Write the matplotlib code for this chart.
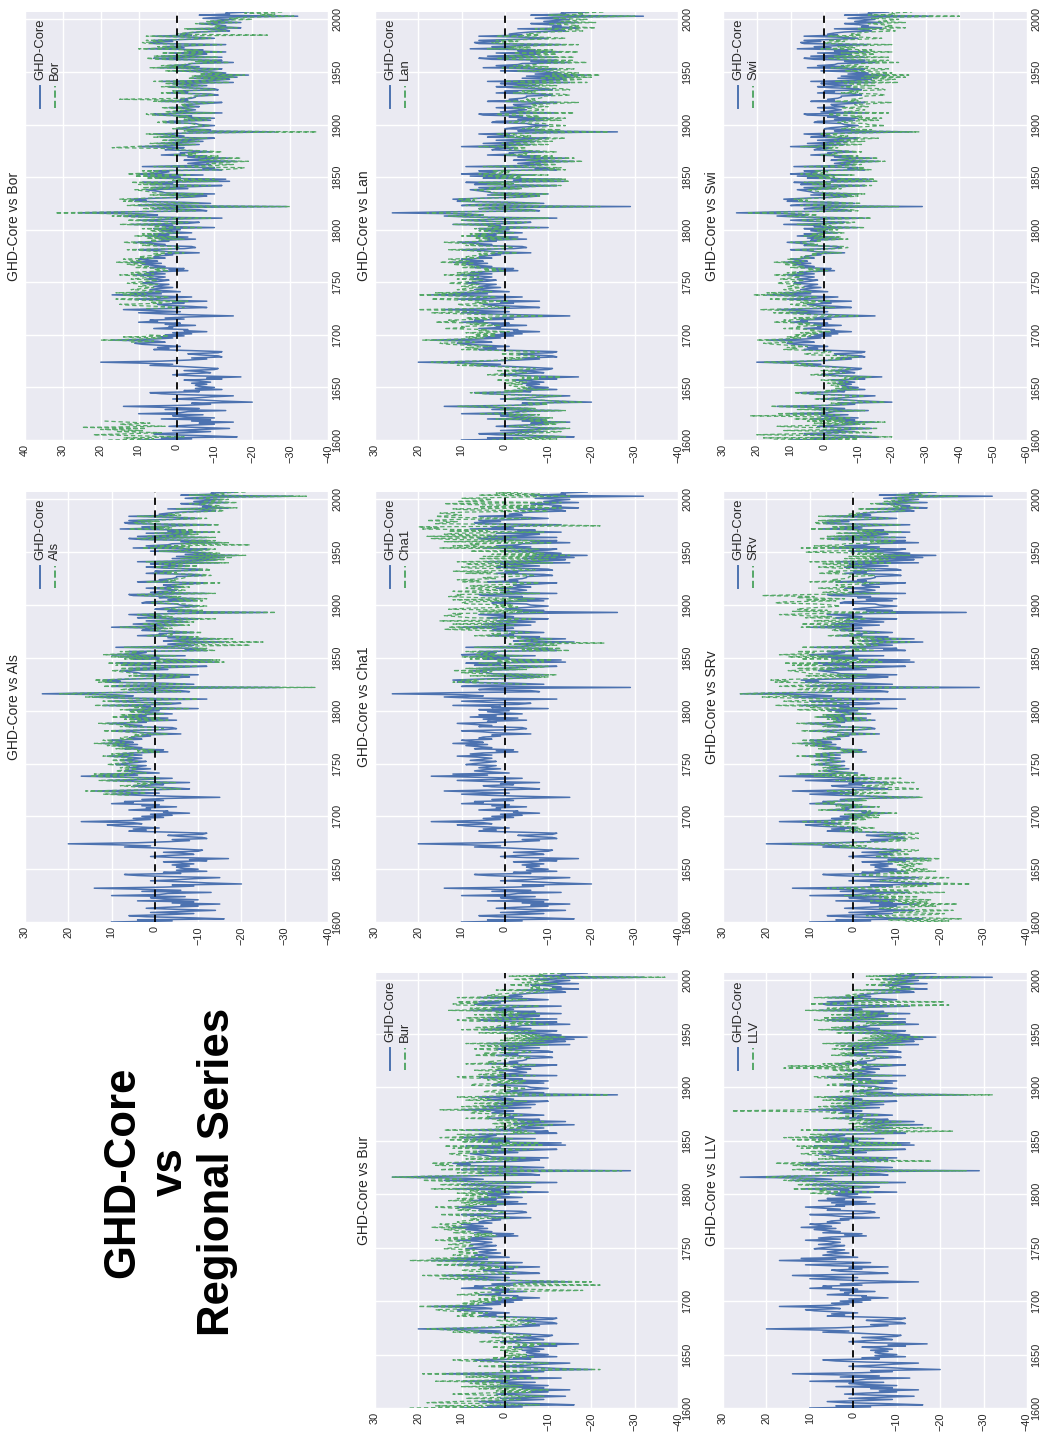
import numpy as np
import matplotlib
matplotlib.use("Agg")
import matplotlib.pyplot as plt

plt.rcParams['font.family'] = ['Liberation Sans', 'DejaVu Sans']

# ---------------- data (anomalies, days) ----------------
ghd_core = [
    10, -4, 4, -16, -8, 2, 6, -3, -9, 1,          # 1600
    -6, -14, -5, 2, -3, -10, -6, -15, -4, -9,     # 1610
    4, -10, -2, 1, -7, 10, -1, -3, -13, 3,        # 1620
    -6, 3, 14, -2, -9, -4, -20, -12, -7, 1,       # 1630
    -5, -9, -15, -3, 4, 7, -6, -2, -12, -5,       # 1640
    -10, -6, -5, -8, -4, -9, -6, -2, -12, -8,     # 1650
    -17, -5, 1, -3, -9, -7, -2, -10, -11, -6,     # 1660
    -1, 7, 1, 8, 20, 4, -3, -8, -4, -12,          # 1670
    -11, -6, -3, -11, -12, -4, 6, 2, 5, -1,       # 1680
    4, 9, 11, 3, 5, 17, 6, 1, 5, -2,              # 1690
    3, -4, 1, -8, -2, -3, 6, 1, 2, -5,            # 1700
    3, -1, 10, 5, 7, -2, 3, -3, -15, -4,          # 1710
    4, 10, -1, 6, 14, 2, -8, -4, 3, 5,            # 1720
    -2, 1, -8, 4, 11, 2, -4, 6, 17, 4,            # 1730
    12, -1, 3, 7, 5, 1, 6, 4, 2, 9,               # 1740
    7, 4, 2, 8, 5, 3, 6, 11, 3, 8,                # 1750
    5, -3, 2, -2, 7, 3, 6, 9, 4, 12,              # 1760
    5, 8, 10, 3, 6, 5, 1, 3, -6, 2,               # 1770
    5, 10, -2, -5, -4, 6, 3, 7, 11, 2,            # 1780
    4, -5, 5, -3, 8, 2, 6, -4, 1, 4,              # 1790
    -1, 6, -10, 3, 1, 12, -3, -6, 4, 10,          # 1800
    2, -12, 8, 14, 5, 9, 26, 12, -8, -6,          # 1810
    6, 3, -29, 10, 6, -9, -2, 11, 8, 12,          # 1820
    5, -4, -8, 4, -10, 3, 4, 6, 8, -3,            # 1830
    6, -5, -12, 7, 1, 9, -14, -2, -13, 5,         # 1840
    -1, 8, -7, 10, 4, 2, 6, -12, -7, -10,         # 1850
    9, -4, -9, -3, -6, -16, -2, -5, -14, -3,      # 1860
    -8, 4, -2, -1, -9, -4, 3, 2, -2, 10,          # 1870
    1, -6, 5, -1, -7, 2, -5, -10, 4, -2,          # 1880
    1, 6, -5, -26, -3, -9, 0, -2, -6, -10,        # 1890
    -6, -5, 3, 2, -9, -3, -10, -1, -4, 5,         # 1900
    6, -12, 1, -2, -5, -3, 2, -6, -3, -2,         # 1910
    -8, -12, 4, -3, -1, -4, -5, -5, -11, -9,      # 1920
    2, -3, 0, -11, -10, -2, 2, -8, -3, 1,         # 1930
    -15, 4, -10, -14, -4, -16, -5, -19, -7, -13,  # 1940
    -9, 1, -10, -12, 5, -6, 2, -3, -4, -15,       # 1950
    -6, -12, 3, 6, -12, 4, -5, -8, 2, -13,        # 1960
    -3, -7, 8, -2, 3, -4, -13, 6, 7, 1,           # 1970
    6, -3, -10, -5, 6, -4, -1, -3, -6, -14,       # 1980
    -13, -3, -17, -11, -13, -10, -6, -17, -9, -12,  # 1990
    -15, -7, -11, -32, -6, -14, -13, -19,         # 2000
]

als_1720 = [
    6, 12, 2, 9, 16, 4, -6, -2, 5, 8,
    1, 4, -5, 7, 13, 5, -1, 8, 15, 6,
    14, 2, 5, 9, 7, 4, 8, 6, 4, 11,
    9, 6, 4, 10, 7, 5, 8, 12, 5, 10,
    7, -1, 4, 0, 9, 5, 8, 11, 6, 14,
    7, 10, 12, 5, 8, 7, 3, 5, -3, 4,
    7, 12, 0, -2, -1, 8, 5, 9, 13, 4,
    6, -3, 7, -1, 10, 4, 8, -2, 3, 6,
    1, 8, -8, 5, 3, 14, -1, -4, 6, 12,
    4, -10, 10, 16, 7, 11, 22, 14, -6, -4,
    8, 5, -37, 12, 8, -7, 0, 13, 10, 14,
    7, -2, -6, 6, -8, 5, 6, 8, 10, -1,
    8, -3, -10, 9, 3, 11, -16, 0, -15, 7,
    1, 10, -5, 12, 6, 4, 8, -14, -9, -12,
    7, -6, -22, -5, -8, -25, -4, -7, -18, -5,
    -10, 2, -4, -3, -11, -6, 1, 0, -4, 8,
    -1, -8, 3, -3, -9, 0, -7, -14, 2, -4,
    -1, 4, -7, -28, -5, -11, -2, -4, -8, -12,
    -8, -7, 1, 0, -11, -5, -12, -3, -6, 3,
    4, -14, -1, -4, -7, -5, 0, -8, -5, -4,
    -10, -15, 2, -5, -3, -6, -7, -7, -13, -11,
    0, -5, -2, -13, -12, -4, 0, -10, -5, -1,
    -17, 2, -12, -16, -6, -18, -7, -21, -9, -15,
    -11, -1, -12, -14, 3, -8, 0, -22, -6, -17,
    -8, -14, 1, 4, -14, 2, -7, -10, 0, -15,
    -5, -9, 6, -4, 1, -6, -15, 4, 5, -1,
    4, -5, -12, -7, 4, -6, -3, -5, -8, -16,
    -15, -5, -19, -13, -15, -12, -8, -19, -11, -14,
    -17, -9, -13, -35, -8, -16, -15, -21,
]

bor_1600 = [18, 6, 14, -2, 10, 22, 12, 4, 16, 9,
            20, 8, 25, 3, 11, 15, 7, 13, 19]
bor_1693 = [12, 6, 20, 9, 4, 14, 2, 8]
bor_1725 = [
    8, -2, 4, 12, 15,
    4, 7, -3, 10, 16, 6, 2, 11, 14, 8,
    16, 4, 7, 12, 9, 6, 10, 8, 5, 13,
    11, 7, 5, 12, 9, 6, 10, 15, 6, 12,
    9, 2, 6, 3, 11, 7, 10, 13, 8, 16,
    9, 12, 14, 6, 10, 8, 4, 6, -2, 5,
    8, 13, 1, -1, 0, 9, 6, 10, 14, 5,
    7, -2, 8, 0, 11, 5, 9, -1, 4, 7,
    2, 9, -7, 6, 4, 15, 0, -3, 7, 13,
    5, -9, 11, 17, 8, 12, 32, 15, -5, -3,
    9, 6, -30, 13, 9, -6, 1, 14, 11, 15,
    8, -1, -5, 7, -7, 6, 7, 9, 11, 0,
    9, -2, -9, 10, 4, 12, -11, 1, -10, 8,
    2, 11, -4, 13, 7, 5, 9, -12, -16, -18,
    6, -10, -15, -8, -12, -19, -6, -9, -17, -5,
    -11, 1, -5, -3, -12, -7, 0, -1, 17, 12,
    3, -5, 7, 1, -6, 4, -3, -8, 6, 0,
    2, 8, -4, -37, -2, -8, 1, -1, -5, -9,
    -5, -4, 5, 4, -8, -2, -9, 0, -3, 7,
    8, -10, 3, 0, -4, -2, 4, -5, -2, -1,
    -7, -10, 6, -2, 15, -3, -4, -4, -10, -8,
    4, -2, 1, -10, -9, -1, 4, -7, -2, 3,
    -14, 6, -9, -13, -3, -15, -4, -18, -6, -12,
    -8, 3, -9, -11, 7, -5, 4, -2, -3, -14,
    -5, -11, 5, 8, -11, 6, -4, -7, 4, -12,
    -2, -6, 10, -1, 5, -3, -12, 8, 9, 3,
    8, -2, -9, -4, 8, -24, 0, -2, -5, -13,
    -12, -2, -16, -10, -12, -9, -5, -16, -8, -11,
    -20, -14, -18, -31, -22, -26, -18, -28,
]

bur_1600 = [
    22, 5, 16, -8, 3, 18, 12, 2, -4, 9,
    1, -9, 4, 12, 5, -6, 2, -10, 6, -3,
    10, -4, 5, 8, -1, 16, 4, 2, -8, 9,
    -1, 8, 19, 3, -4, 1, -22, -8, -2, 6,
    -1, -4, -10, 2, 9, 12, -1, 3, -7, 0,
    -5, -1, 0, -3, 1, -4, -1, 3, -7, -3,
    -12, 0, 6, 2, -4, -2, 3, -5, -6, -1,
    4, 12, 6, 13, 18, 9, 2, -3, 1, -7,
    -6, -1, 2, -6, -7, 1, 11, 7, 10, 4,
    9, 14, 16, 8, 10, 20, 11, 6, 10, 3,
    8, 1, 6, -3, 3, 2, 11, 6, 7, -2,
    -18, -6, 5, 0, 2, -22, -2, -8, -20, -9,
    9, 15, 4, 11, 19, 7, -3, 1, 8, 10,
    3, 6, -3, 9, 16, 7, 1, 11, 22, 9,
    17, 4, 8, 12, 10, 6, 11, 9, 7, 14,
    12, 9, 7, 13, 10, 8, 11, 16, 8, 13,
    10, 2, 7, 3, 12, 8, 11, 14, 9, 17,
    10, 13, 15, 8, 11, 10, 6, 8, -1, 7,
    10, 15, 3, 0, 1, 11, 8, 12, 16, 7,
    9, 0, 10, 2, 13, 7, 11, 1, 6, 9,
    4, 11, -5, 8, 6, 17, 2, -1, 9, 15,
    7, -7, 13, 19, 10, 14, 26, 17, -3, -1,
    11, 8, -27, 15, 11, -4, 3, 16, 13, 17,
    10, 1, -3, 9, -5, 8, 9, 11, 13, 2,
    11, 0, -7, 12, 6, 14, -9, 3, -8, 10,
    4, 13, -2, 15, 9, 7, 11, -7, -2, -5,
    14, 1, -4, 2, -1, -11, 3, 0, -9, 2,
    -3, 9, 3, 4, -4, 1, 8, 7, 3, 15,
    6, -1, 10, 4, -2, 7, 0, -5, 9, 3,
    6, 11, 0, -24, 2, -4, 5, 3, -1, -5,
    -1, 0, 8, 7, -4, 2, -5, 4, 1, 10,
    11, -7, 6, 3, 0, 2, 7, -1, 2, 3,
    -3, -7, 9, 2, 4, 1, 0, 0, -6, -4,
    7, 2, 5, -6, -5, 3, 7, -3, 2, 6,
    -10, 9, -5, -9, 1, -11, 0, -14, -2, -8,
    -4, 6, -5, -7, 10, -1, 7, 2, 1, -10,
    -1, -7, 8, 11, -7, 9, 0, -3, 7, -8,
    2, -2, 13, 3, 8, 1, -8, 11, 12, 6,
    11, 2, -5, 0, 11, -1, 4, 2, -1, -9,
    -8, 2, -12, -6, -8, -5, -1, -12, -4, -7,
    -10, -2, -6, -37, -1, -9, -8, -14,
]

cha1_1825 = [
    -5, 3, 12, 6, 10,
    2, -6, -10, 8, -12, 5, 10, 3, 12, -5,
    9, -8, -10, 4, 3, 6, -9, 2, -11, 8,
    3, 10, -4, 7, 2, 5, 9, -15, -4, -13,
    7, -6, -12, -1, -23, -9, -3, -7, -11, 0,
    -4, 7, 1, 3, -6, -1, 6, 14, 2, 13,
    5, -2, 12, 3, -3, 15, -1, -6, 8, 11,
    14, 10, 12, -9, 6, -4, 13, 9, -3, 2,
    -2, 8, 10, 9, -5, 12, -7, 6, 13, 10,
    11, -8, 7, 12, -1, 6, 9, -2, 8, 4,
    -4, -8, 10, 6, 11, 2, 5, -1, -7, -5,
    9, 3, 12, -7, -5, 8, 10, -4, 6, 9,
    -11, 11, -6, -10, 6, -12, 5, -15, 3, -9,
    -5, 8, -6, -8, 15, -2, 12, 6, 8, -11,
    14, -8, 12, 17, -3, 18, 2, 14, 11, -9,
    13, 4, 19, 15, 20, -22, -9, 16, 14, 11,
    18, 12, -6, 13, 16, 10, 12, 15, 9, -10,
    8, 12, -13, 6, -9, 7, 14, -13, 11, 5,
    3, 10, -1, -15, 6, -8, 2, -4,
]

lan_1600 = [
    3, -12, -2, -14, -9, -4, 1, -10, -13, -3,
    -8, -15, -7, -1, -5, -12, -9, -14, -6, -10,
    2, -11, -4, -1, -8, 6, -3, -5, -14, 1,
    -7, 2, 11, -3, -10, -5, -18, -12, -8, 0,
    -4, -8, -13, -1, 5, 8, -4, 0, -10, -3,
    -6, -2, -1, -4, 0, -5, -2, 2, -8, -4,
    -13, -1, 4, 1, -5, -3, 2, -6, -7, -2,
    3, 11, 5, 12, 17, 8, 1, -4, 0, -8,
    -7, -2, 1, -7, -8, 0, 10, 6, 9, 3,
    8, 13, 15, 7, 9, 19, 10, 5, 9, 2,
    7, 2, 9, -1, 6, 4, 14, 9, 10, 1,
    8, 4, 16, 11, 13, 3, 9, 2, -9, 3,
    10, 17, 6, 12, 20, 8, -1, 3, 9, 11,
    4, 7, -1, 10, 17, 8, 2, 12, 20, 10,
    16, 3, 7, 11, 9, 5, 10, 8, 6, 13,
    10, 7, 5, 11, 8, 6, 9, 14, 6, 11,
    8, 0, 5, 1, 10, 6, 9, 12, 7, 15,
    8, 11, 13, 6, 9, 8, 4, 6, -3, 5,
    8, 13, 1, -2, -1, 9, 6, 10, 14, 5,
    6, -3, 7, -1, 10, 4, 8, -2, 3, 6,
    0, 7, -8, 4, 2, 12, -2, -5, 5, 10,
    3, -10, 8, 13, 5, 9, 18, 11, -7, -5,
    6, 3, -22, 9, 5, -8, -1, 10, 7, 11,
    4, -4, -8, 3, -10, 2, 3, 5, 7, -4,
    4, -7, -13, 4, -2, 6, -15, -4, -14, 2,
    -4, 5, -10, 6, 1, -1, 3, -14, -10, -13,
    5, -8, -12, -6, -9, -18, -5, -8, -16, -6,
    -11, 0, -5, -4, -12, -7, -1, -2, -5, 6,
    -3, -10, 1, -5, -11, -2, -9, -14, 0, -6,
    -3, 2, -9, -24, -7, -13, -4, -6, -10, -14,
    -10, -9, -1, -2, -13, -7, -14, -5, -8, 1,
    2, -16, -3, -6, -9, -7, -2, -10, -7, -6,
    -12, -17, 0, -7, -5, -8, -9, -9, -15, -13,
    -2, -7, -4, -15, -14, -6, -2, -12, -7, -3,
    -19, 0, -14, -18, -8, -20, -9, -22, -11, -17,
    -13, -3, -14, -16, 1, -10, -2, -7, -8, -19,
    -10, -16, -1, 2, -16, 0, -9, -12, -2, -17,
    -7, -11, 4, -6, -1, -8, -17, 2, 3, -3,
    2, -7, -14, -9, 2, -8, -5, -7, -10, -18,
    -17, -7, -21, -15, -17, -14, -10, -21, -13, -16,
    -19, -11, -15, -30, -10, -18, -17, -23,
]

llv_1800 = [
    4, 10, -5, 8, 6, 14, 2, -2, 9, 13,
    6, -8, 12, 16, 9, 12, 20, 15, -4, -2,
    9, 6, -26, 14, 10, -5, 3, 14, 11, 18,
    9, -18, -5, 8, -8, 6, 7, 10, 12, 0,
    10, -1, -9, 12, 5, 13, -11, 2, -10, 9,
    3, 14, -4, 16, 8, 6, 10, -9, -5, -23,
    12, -2, -18, 0, -4, -13, 1, -2, -11, 1,
    -5, 7, 1, 2, -6, -1, 5, 4, 28, 12,
    4, -3, 8, 2, -4, 5, -2, -7, 7, 1,
    4, 9, -2, -32, 0, -6, 3, 1, -3, -7,
    -3, -2, 6, 5, -6, 0, -7, 2, -1, 8,
    9, -9, 4, 1, -2, 0, 5, -3, 16, 1,
    15, -9, 7, 0, 2, -1, -2, -2, -8, -6,
    5, 0, 3, -8, -7, 1, 5, -5, 0, 4,
    -12, 7, -7, -11, -1, -13, -2, -16, -4, -10,
    -6, 4, -7, -9, 8, -3, 5, 0, -1, -12,
    -3, -9, 6, 9, -9, 7, -2, -5, 5, -10,
    0, -4, 11, 1, 6, -1, -10, -22, 10, 4,
    -21, 0, -7, -2, 9, -3, 2, 0, -3, -11,
    -10, 0, -14, -8, -10, -7, -3, -14, -6, -9,
    -12, -4, -8, -27, -3, -11, -10, -16,
]

srv_1600 = [
    -12, -22, -8, -25, -16, -6, -3, -18, -21, -9,
    -14, -23, -12, -6, -10, -19, -13, -24, -11, -17,
    -4, -18, -9, -6, -15, 2, -8, -11, -21, -5,
    -13, -4, 6, -9, -17, -11, -27, -19, -14, -6,
    -12, -16, -22, -10, -3, 0, -13, -8, -19, -11,
    -17, -12, -11, -14, -10, -16, -12, -8, -18, -14,
    -20, -10, -5, -8, -13, -11, -6, -14, -15, -9,
    -4, 3, -3, 4, 14, -1, -7, -12, -8, -15,
    -14, -9, -6, -14, -15, -7, 3, -2, 1, -5,
    0, 5, 7, -1, 1, 12, 2, -3, 1, -6,
    1, -6, 2, -10, -3, -4, 8, 2, 3, -6,
    4, -2, 9, 4, 6, -3, 2, -4, -16, -5,
    -2, 3, -8, -1, 6, -5, -15, -11, -4, -2,
    -9, -6, -14, -3, 4, -5, -11, -1, 9, -3,
    13, 0, 4, 8, 6, 2, 7, 5, 3, 10,
    8, 5, 3, 9, 6, 4, 7, 13, 4, 9,
    6, -2, 3, -1, 8, 4, 7, 11, 5, 14,
    7, 9, 12, 4, 7, 6, 2, 4, -5, 3,
    6, 12, -1, -4, -3, 7, 4, 8, 13, 3,
    5, -4, 6, -2, 9, 3, 7, -3, 2, 5,
    6, 13, -3, 10, 8, 18, 4, 1, 11, 16,
    9, -5, 15, 21, 12, 16, 26, 19, 1, 3,
    13, 10, -20, 17, 13, -2, 5, 18, 15, 19,
    12, 3, -1, 11, -3, 10, 11, 13, 15, 4,
    13, 2, -5, 14, 8, 16, -7, 5, -6, 12,
    6, 15, 0, 17, 11, 9, 13, -5, 0, -3,
    12, -1, -6, 0, -3, -13, 1, -2, -11, 0,
    -5, 6, 0, 1, -6, -1, 5, 4, 0, 12,
    8, 1, 12, 6, 0, 9, 2, -3, 11, 5,
    12, 17, 8, -10, 14, 6, 13, 11, 7, 3,
    5, 8, 18, 16, 4, 11, 2, 13, 9, 21,
    10, -6, 7, 4, 1, 3, 8, 0, 3, 4,
    -2, -6, 10, 3, 5, 2, 1, 1, -5, -3,
    8, 3, 6, -5, -4, 4, 8, -2, 3, 7,
    -9, 10, -4, -8, 2, -10, 1, -13, -1, -7,
    11, 7, -4, -6, 12, 0, 9, 3, 2, -9,
    -4, -10, 5, 8, -10, 6, -3, -6, 4, -11,
    -1, -5, 10, 0, 5, -2, -11, 8, 9, 3,
    8, -1, -8, -3, 8, -2, 1, -1, -4, -12,
    -11, -1, -15, -9, -11, -8, -4, -15, -7, -10,
    -14, -9, -12, -24, -10, -16, -15, -18,
]

swi_1600 = [
    15, -10, 18, -20, -5, 20, 8, -14, -8, 12,
    -2, -16, 6, 14, 2, -12, 3, -18, 5, -6,
    9, -8, 3, 22, -5, 14, 2, -1, -12, 8,
    -3, 6, 16, -1, -7, -2, -18, -10, -5, 3,
    -4, -7, -12, 0, 6, 9, -4, 0, -10, -3,
    -8, -4, -2, -6, -1, -7, -4, 1, -10, -6,
    -14, -2, 4, 0, -6, -4, 1, -7, -8, -3,
    2, 9, 3, 10, 18, 6, -1, -6, -2, -10,
    -8, 4, 6, 0, -2, 2, 12, 8, 11, 5,
    10, 15, 18, 9, 11, 20, 12, 7, 11, 4,
    9, 2, 7, -2, 4, 3, 12, 7, 8, 1,
    8, 4, 15, 10, 12, 3, 9, 2, -10, 2,
    9, 15, 5, 11, 19, 7, -3, 2, 8, 10,
    3, 7, -2, 10, 16, 8, 2, 12, 21, 9,
    17, 4, 8, 12, 10, 6, 11, 9, 7, 14,
    12, 8, 6, 13, 10, 7, 10, 15, 6, 11,
    8, -1, 5, 1, 10, 6, 9, 12, 7, 15,
    6, 9, 11, 4, 7, 6, 2, 4, -5, 3,
    3, 9, -4, -7, -6, 5, 2, 6, 10, 1,
    2, -7, 3, -5, 6, 0, 4, -6, -1, 2,
    -4, 3, -12, 0, -2, 8, -6, -9, 1, 7,
    -1, -14, 5, 11, 2, 6, 23, 9, -10, -8,
    3, 0, -22, 7, 3, -11, -4, 8, 5, 9,
    2, -6, -10, 1, -12, 0, 1, 3, 5, -5,
    3, -7, -14, 4, -2, 6, -16, -4, -15, 2,
    -3, 5, -9, 7, 1, -1, 3, -14, -9, -12,
    6, -7, -11, -5, -8, -18, -4, -7, -16, -5,
    -10, 1, -4, -3, -11, -6, 0, -1, -4, 7,
    -4, -11, 0, -6, -12, -3, -10, -16, -1, -7,
    -4, 1, -10, -28, -8, -14, -5, -7, -12, -18,
    -13, -12, -4, -5, -16, -10, -17, -8, -11, -2,
    -1, -19, -6, -9, -12, -10, -5, -13, -10, -9,
    -15, -20, -3, -10, -8, -11, -12, -12, -18, -16,
    -5, -10, -7, -18, -17, -9, -5, -15, -10, -6,
    -22, -3, -17, -21, -11, -24, -12, -25, -14, -20,
    -16, -6, -17, -19, -2, -13, -5, -10, -11, -22,
    -13, -19, -4, -1, -19, -3, -12, -15, -5, -20,
    -10, -14, 1, -9, -4, -11, -20, -1, 0, -6,
    -1, -10, -17, -12, -1, -11, -8, -10, -13, -21,
    -20, -10, -24, -18, -20, -17, -13, -24, -16, -19,
    -22, -14, -18, -40, -13, -21, -20, -26,
]

year_ticks = [1600, 1650, 1700, 1750, 1800, 1850, 1900, 1950, 2000]
value_ticks_std = [30, 20, 10, 0, -10, -20, -30, -40]
value_ticks_bor = [40, 30, 20, 10, 0, -10, -20, -30, -40]
value_ticks_swi = [30, 20, 10, 0, -10, -20, -30, -40, -50, -60]

# ---------------- style ----------------
BG = "#EAEAF2"
BLUE = "#4C72B0"
GREEN = "#55A868"
TXT = "#262626"
W, H = 1042, 1440

fig = plt.figure(figsize=(W / 100, H / 100), dpi=100)


def px_rect(x0, y0, x1, y1):
    return [x0 / W, 1 - y1 / H, (x1 - x0) / W, (y1 - y0) / H]


def fmt(v):
    return str(v) if v >= 0 else "\u2212" + str(-v)


def panel(rect, name, segments, vticks):
    ax = fig.add_axes(rect)
    ax.set_facecolor(BG)
    for s in ax.spines.values():
        s.set_visible(False)
    ax.set_axisbelow(True)
    ax.grid(True, color="white", lw=1.0)
    yrs = 1600 + np.arange(len(ghd_core))
    ax.plot(ghd_core, yrs, color=BLUE, lw=1.1, zorder=2)
    for start, vals in segments:
        y = start + np.arange(len(vals))
        ax.plot(vals, y, color=GREEN, lw=0.9, ls=(0, (3.5, 2.2)), zorder=3)
    ax.axvline(0, color="black", ls=(0, (4, 3)), lw=1.3, zorder=4)
    ax.set_xlim(max(vticks), min(vticks))
    ax.set_ylim(1600, 2007)
    ax.set_xticks(vticks)
    ax.set_xticklabels([fmt(v) for v in vticks], rotation=90)
    ax.yaxis.tick_right()
    ax.set_yticks(year_ticks)
    ax.set_yticklabels([str(y) for y in year_ticks], rotation=90, va="center")
    ax.tick_params(length=0, labelsize=7.8, colors=TXT, pad=3)
    # panel title (left side in portrait)
    ax.text(-0.014, 0.5, "GHD-Core vs " + name, transform=ax.transAxes,
            rotation=90, ha="right", va="center", fontsize=10, color=TXT)
    # legend (manual, rotated)
    ax.plot([0.05, 0.05], [0.776, 0.828], transform=ax.transAxes,
            color=BLUE, lw=1.4, zorder=5)
    ax.plot([0.10, 0.10], [0.776, 0.828], transform=ax.transAxes,
            color=GREEN, lw=1.4, ls="--", zorder=5)
    ax.text(0.05, 0.842, "GHD-Core", transform=ax.transAxes, rotation=90,
            ha="center", va="bottom", fontsize=9.4, color=TXT)
    ax.text(0.10, 0.842, name, transform=ax.transAxes, rotation=90,
            ha="center", va="bottom", fontsize=9.4, color=TXT)
    return ax


# columns in portrait layout (x pixel ranges) and rows (y pixel ranges)
XL, XM, XR = (25, 328), (375, 678), (723, 1027)
YT, YM, YB = (12, 440), (492, 922), (973, 1408)

panel(px_rect(XL[0], YT[0], XL[1], YT[1]), "Bor",
      [(1600, bor_1600), (1693, bor_1693), (1725, bor_1725)], value_ticks_bor)
panel(px_rect(XM[0], YT[0], XM[1], YT[1]), "Lan", [(1600, lan_1600)], value_ticks_std)
panel(px_rect(XR[0], YT[0], XR[1], YT[1]), "Swi", [(1600, swi_1600)], value_ticks_swi)
panel(px_rect(XL[0], YM[0], XL[1], YM[1]), "Als", [(1720, als_1720)], value_ticks_std)
panel(px_rect(XM[0], YM[0], XM[1], YM[1]), "Cha1", [(1825, cha1_1825)], value_ticks_std)
panel(px_rect(XR[0], YM[0], XR[1], YM[1]), "SRv", [(1600, srv_1600)], value_ticks_std)
panel(px_rect(XM[0], YB[0], XM[1], YB[1]), "Bur", [(1600, bur_1600)], value_ticks_std)
panel(px_rect(XR[0], YB[0], XR[1], YB[1]), "LLV", [(1800, llv_1800)], value_ticks_std)

fig.text(170 / W, 1 - 1172 / H, "GHD-Core\nvs\nRegional Series", rotation=90,
         ha="center", va="center", multialignment="center", fontsize=31.5,
         fontweight="bold", color="black", linespacing=1.2)

fig.savefig("out.png", dpi=100, facecolor="white")
